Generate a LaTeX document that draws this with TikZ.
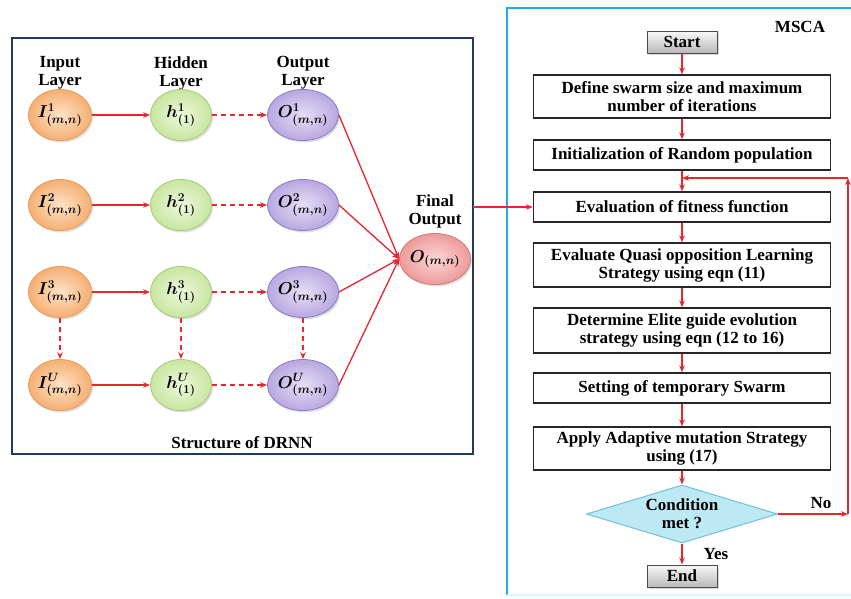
\documentclass[tikz,border=0pt]{standalone}
\usepackage{fontspec}
\setmainfont{Liberation Serif}
\usetikzlibrary{shapes.geometric,arrows.meta,shadows}

\definecolor{arrred}{HTML}{E8262E}
\definecolor{navyline}{HTML}{22385E}
\definecolor{cyanline}{HTML}{1DAFE6}
\definecolor{inOut}{HTML}{F5AF72}
\definecolor{inIn}{HTML}{FDE3C8}
\definecolor{inLine}{HTML}{E89A5A}
\definecolor{hidOut}{HTML}{C8E6A0}
\definecolor{hidIn}{HTML}{EEF8DC}
\definecolor{hidLine}{HTML}{A6CA7A}
\definecolor{outOut}{HTML}{B8A8E0}
\definecolor{outIn}{HTML}{E6DEF6}
\definecolor{outLine}{HTML}{8C7CC4}
\definecolor{finOut}{HTML}{EE9A9A}
\definecolor{finIn}{HTML}{FAD8D8}
\definecolor{finLine}{HTML}{D07878}
\definecolor{decFill}{HTML}{BDE9F5}
\definecolor{decLine}{HTML}{6EC1DA}

\begin{document}
\begin{tikzpicture}[
        x=1pt, y=-1pt,
        font=\fontsize{17}{18}\selectfont\bfseries,
        neuron/.style={ellipse, line width=0.8pt, minimum width=61pt, minimum height=51pt,
            inner sep=0pt, font=\fontsize{17.5}{17.5}\selectfont\mathversion{bold},
            drop shadow={opacity=0.25, shadow xshift=1.5pt, shadow yshift=-2pt}},
        inp/.style={neuron, draw=inLine, inner color=inIn, outer color=inOut},
        hid/.style={neuron, draw=hidLine, inner color=hidIn, outer color=hidOut},
        outp/.style={neuron, draw=outLine, inner color=outIn, outer color=outOut},
        fin/.style={neuron, draw=finLine, inner color=finIn, outer color=finOut},
        arr/.style={draw=arrred, line width=1.3pt, -{Stealth[length=7pt,width=5.5pt]}},
        darr/.style={arr, dash pattern=on 5pt off 4pt},
        fbox/.style={draw=black!85, line width=1.3pt, fill=white, minimum width=297pt,
            align=center, inner sep=0pt},
        term/.style={draw=black!70, line width=1pt, top color=gray!5, bottom color=gray!55,
            minimum width=70pt, minimum height=22pt, inner sep=0pt,
            drop shadow={opacity=0.3, shadow xshift=1.5pt, shadow yshift=-1.5pt}},
        dec/.style={diamond, aspect=3.3, draw=decLine, line width=1pt, fill=decFill,
            minimum width=191pt, minimum height=58pt, inner sep=0pt, align=center}
    ]

    % ---------- canvas ----------
    \fill[white] (0,0) rectangle (851,598);
    \useasboundingbox (0,0) rectangle (851,598);

    % ---------- layout ----------
    \def\colI{60}     % input column
    \def\colH{181}    % hidden column
    \def\colO{303}    % output column
    \def\rowA{115}
    \def\rowB{205}
    \def\rowC{292}
    \def\rowD{385}
    \def\fx{682}      % flowchart axis

    % ---------- DRNN frame ----------
    \draw[navyline, line width=1.5pt] (12,38) rectangle (473,454);
    \coordinate (drnnE) at (473,207);

    \node[align=center] (hdrI) at (\colI,73) {Input\\Layer};
    \node[align=center] (hdrH) at (\colH,73) {Hidden\\Layer};
    \node[align=center] (hdrO) at (\colO,73) {Output\\Layer};

    % input layer
    \node[inp] (i1) at (\colI,\rowA) {$I^{1}_{(m,n)}$};
    \node[inp] (i2) at (\colI,\rowB) {$I^{2}_{(m,n)}$};
    \node[inp] (i3) at (\colI,\rowC) {$I^{3}_{(m,n)}$};
    \node[inp] (iu) at (\colI,\rowD) {$I^{U}_{(m,n)}$};
    % hidden layer
    \node[hid] (h1) at (\colH,\rowA) {$h^{1}_{(1)}$};
    \node[hid] (h2) at (\colH,\rowB) {$h^{2}_{(1)}$};
    \node[hid] (h3) at (\colH,\rowC) {$h^{3}_{(1)}$};
    \node[hid] (hu) at (\colH,\rowD) {$h^{U}_{(1)}$};
    % output layer
    \node[outp] (o1) at (\colO,\rowA) {$O^{1}_{(m,n)}$};
    \node[outp] (o2) at (\colO,\rowB) {$O^{2}_{(m,n)}$};
    \node[outp] (o3) at (\colO,\rowC) {$O^{3}_{(m,n)}$};
    \node[outp] (ou) at (\colO,\rowD) {$O^{U}_{(m,n)}$};

    % final output
    \node[align=center] (finlbl) at (435,211) {Final\\Output};
    \node[fin] (fo) at (435,259) {$O_{(m,n)}$};

    \node (drnnlbl) at (242,443) {Structure of DRNN};

    % ---------- DRNN links ----------
    \draw[arr] (i1) -- (h1);
    \draw[arr] (i2) -- (h2);
    \draw[arr] (i3) -- (h3);
    \draw[arr] (iu) -- (hu);

    \draw[darr] (h1) -- (o1);
    \draw[darr] (h2) -- (o2);
    \draw[darr] (h3) -- (o3);
    \draw[darr] (hu) -- (ou);

    \draw[darr] (i3) -- (iu);
    \draw[darr] (h3) -- (hu);
    \draw[darr] (o3) -- (ou);

    \draw[arr] (o1.east) -- (fo.west);
    \draw[arr] (o2.east) -- (fo.west);
    \draw[arr] (o3.east) -- (fo.west);
    \draw[arr] (ou.east) -- (fo.west);

    % ---------- MSCA frame ----------
    \draw[cyanline, line width=1.8pt] (851,8) -- (507,8) -- (507,595);
    \draw[cyanline!15, line width=1.5pt] (507,595) -- (851,595);
    \node (msca) at (800,27) {MSCA};

    % ---------- flowchart ----------
    \node[term] (start) at (\fx,42) {Start};
    \node[fbox, minimum height=43pt] (swarm) at (\fx,96.5) {Define swarm size and maximum\\number of iterations};
    \node[fbox, minimum height=30pt] (init) at (\fx,155) {Initialization of Random population};
    \node[fbox, minimum height=30pt] (eval) at (\fx,207) {Evaluation of fitness function};
    \node[fbox, minimum height=44pt] (quasi) at (\fx,265) {Evaluate Quasi opposition Learning\\Strategy using eqn (11)};
    \node[fbox, minimum height=45pt] (elite) at (\fx,330.5) {Determine Elite guide evolution\\strategy using eqn (12 to 16)};
    \node[fbox, minimum height=30pt] (temp) at (\fx,388) {Setting of temporary Swarm};
    \node[fbox, minimum height=43pt] (mut) at (\fx,448.5) {Apply Adaptive mutation Strategy\\using (17)};
    \node[dec] (cond) at (\fx,514) {Condition\\met ?};
    \node[term] (stop) at (\fx,576) {End};

    \node (nolbl) at (821,503) {No};
    \node (yeslbl) at (716,554) {Yes};

    \coordinate (noTurn) at (848,514);
    \coordinate (loopTop) at (848,178);
    \coordinate (loopIn) at (\fx,178);

    \draw[arr] (start) -- (swarm);
    \draw[arr] (swarm) -- (init);
    \draw[arr] (init) -- (eval);
    \draw[arr] (eval) -- (quasi);
    \draw[arr] (quasi) -- (elite);
    \draw[arr] (elite) -- (temp);
    \draw[arr] (temp) -- (mut);
    \draw[arr] (mut) -- (cond);
    \draw[arr] (cond) -- (stop);

    % loop back
    \draw[arr] (cond.east) -- (noTurn);
    \draw[arr] (noTurn) -- (loopTop);
    \draw[arr] (loopTop) -- (loopIn);

    % DRNN to flowchart
    \draw[arr] (drnnE) -- (eval.west);

\end{tikzpicture}
\end{document}
